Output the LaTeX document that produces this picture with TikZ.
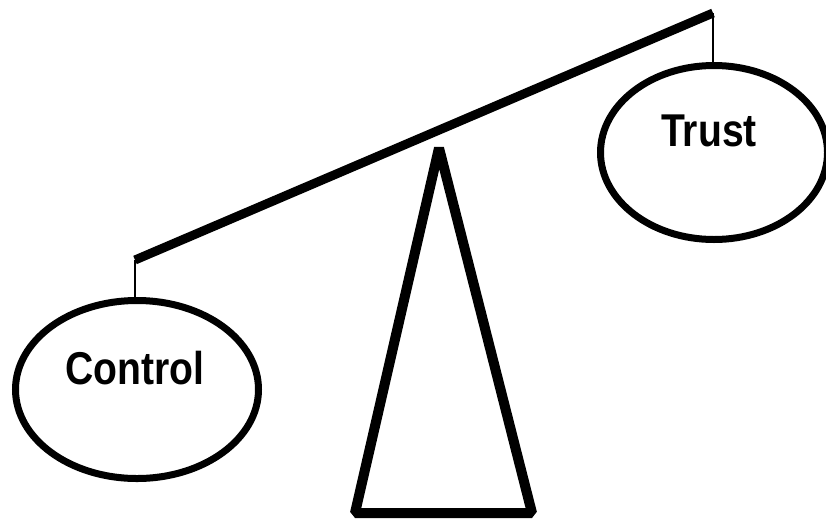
\documentclass[tikz,border=0pt]{standalone}
\usepackage{fontspec}
\setmainfont{Liberation Sans}
\usetikzlibrary{shapes.geometric}
\begin{document}
\begin{tikzpicture}[x=1pt,y=-1pt,
  pan/.style={ellipse,draw,line width=7pt,inner sep=0pt},
  lbl/.style={font=\bfseries\fontsize{46}{46}\selectfont,inner sep=0pt},
  beam/.style={line width=9pt},
  cord/.style={line width=1.5pt},
  stand/.style={line width=10pt,line join=bevel}]
\useasboundingbox (0,0) rectangle (826,520);
\coordinate (bl) at (135,260);
\coordinate (br) at (713,13);
\draw[beam] (bl) -- (br);
\node[pan,minimum width=243pt,minimum height=178pt] (control) at (137,389.5) {};
\node[pan,minimum width=227pt,minimum height=174pt] (trust) at (714,152.5) {};
\draw[cord] (bl) -- (bl |- control.north);
\draw[cord] (br) -- (br |- trust.north);
\node[lbl] (controltext) at (135,368) {\scalebox{0.85}[1]{Control}};
\node[lbl] (trusttext) at (709,131) {\scalebox{0.85}[1]{Trust}};
\draw[stand] (439,148) -- (532,513) -- (355,513) -- cycle;
\end{tikzpicture}
\end{document}
